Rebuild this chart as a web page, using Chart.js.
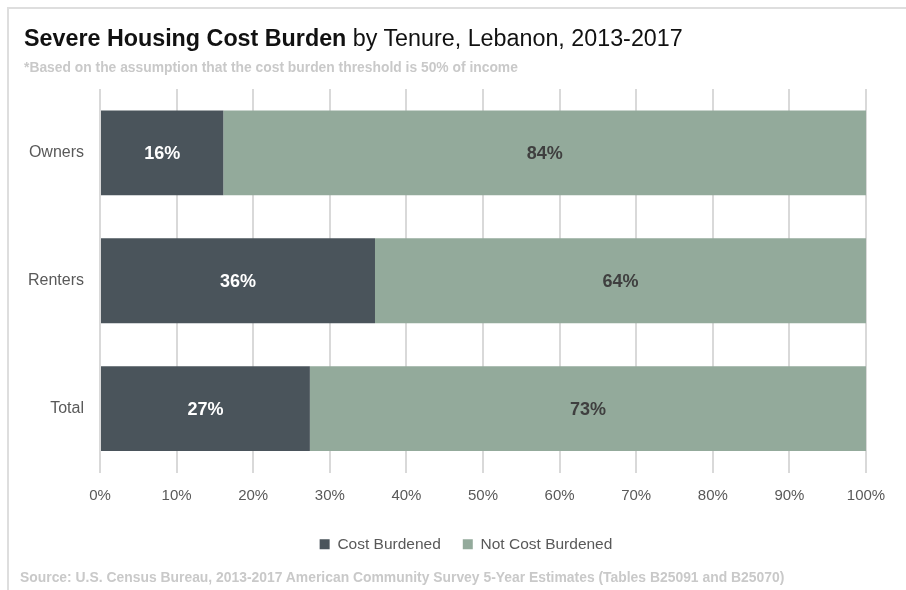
<!DOCTYPE html>
<html>
<head>
<meta charset="utf-8">
<script src="https://cdn.jsdelivr.net/npm/chart.js@4.4.1/dist/chart.umd.min.js"></script>
<style>
  html, body { margin: 0; padding: 0; background: #fff; }
  body { width: 906px; height: 590px; position: relative; overflow: hidden; font-family: "Liberation Sans", Arial, sans-serif; }
  #frame { position: absolute; left: 7px; top: 7px; width: 1000px; height: 1000px; border: 2px solid #dedede; }
  #titulo { position: absolute; left: 24px; top: 25px; font-size: 23.3px; color: #111; white-space: nowrap; }
  #titulo b { font-weight: bold; }
  #subtitulo { position: absolute; left: 24px; top: 58px; font-size: 15px; font-weight: bold; color: #c9c9c9; white-space: nowrap; transform: scaleX(0.923); transform-origin: left top; }
  #fonte { position: absolute; left: 20px; top: 568px; font-size: 15px; font-weight: bold; color: #c9c9c9; white-space: nowrap; transform: scaleX(0.926); transform-origin: left top; }
  #caixa { position: absolute; left: 0; top: 0; width: 906px; height: 590px; }
</style>
</head>
<body>
<div id="frame"></div>
<div id="caixa"><canvas id="graficoCustoMoradia" width="906" height="590"></canvas></div>
<div id="titulo"><b>Severe Housing Cost Burden</b> by Tenure, Lebanon, 2013-2017</div>
<div id="subtitulo">*Based on the assumption that the cost burden threshold is 50% of income</div>
<div id="fonte">Source: U.S. Census Bureau, 2013-2017 American Community Survey 5-Year Estimates (Tables B25091 and B25070)</div>
<script>
// ---- dados do gráfico

const categorias = ['Owners', 'Renters', 'Total'];
const custoSobrecarregado = [16.1, 35.9, 27.4];
const semSobrecarga = [83.9, 64.1, 72.6];
const rotulosEixoX = ['0%', '10%', '20%', '30%', '40%', '50%', '60%', '70%', '80%', '90%', '100%'];

const fonteEixos = '"Liberation Sans", Arial, sans-serif';

// plugin simples para escrever os valores dentro das barras
const rotulosBarras = {
    id: 'rotulosBarras',
    afterLayout(chart) {
        // a legenda do original fica um pouco à direita do centro
        chart.legend.left += 33;
        chart.legend.right += 33;
        chart.legend.top -= 2;
        chart.legend.bottom -= 2;
    },
    afterDatasetsDraw(chart) {
        const ctx = chart.ctx;
        ctx.save();
        ctx.font = 'bold 18px ' + fonteEixos;
        ctx.textAlign = 'center';
        ctx.textBaseline = 'middle';
        chart.data.datasets.forEach((ds, i) => {
            const meta = chart.getDatasetMeta(i);
            meta.data.forEach((barra, j) => {
                const centroX = (barra.x + barra.base) / 2;
                ctx.fillStyle = i === 0 ? '#ffffff' : '#3f3f3f';
                ctx.fillText(Math.round(ds.data[j]) + '%', centroX, barra.y + 1);
            });
        });
        ctx.restore();
    }
};

const ctx = document.getElementById('graficoCustoMoradia').getContext('2d');
let graficoCustoMoradia = new Chart(ctx, {
    type: 'bar',
    data: {
        labels: categorias,
        datasets: [{
            label: 'Cost Burdened',
            data: custoSobrecarregado,
            backgroundColor: '#4a545b',
            barPercentage: 0.664,
            categoryPercentage: 1
        }, {
            label: 'Not Cost Burdened',
            data: semSobrecarga,
            backgroundColor: '#93aa9b',
            barPercentage: 0.664,
            categoryPercentage: 1
        }]
    },
    options: {
        indexAxis: 'y',
        responsive: false,
        animation: false,
        devicePixelRatio: 1,
        layout: {
            padding: { left: 0, right: 40, top: 89, bottom: 26 }
        },
        scales: {
            x: {
                stacked: true,
                min: 0,
                max: 100,
                afterFit: (escala) => { escala.height = 44; },
                afterBuildTicks: (escala) => {
                    escala.ticks = rotulosEixoX.map((r, i) => ({ value: i * 10 }));
                },
                ticks: {
                    callback: (v, i) => rotulosEixoX[i],
                    color: '#595959',
                    font: { family: fonteEixos, size: 15 },
                    padding: 14,
                    maxRotation: 0
                },
                grid: { color: '#d9d9d9', lineWidth: 2, drawTicks: false },
                border: { display: false }
            },
            y: {
                stacked: true,
                afterFit: (escala) => { escala.width = 100; },
                ticks: {
                    color: '#595959',
                    font: { family: fonteEixos, size: 16 },
                    padding: 8
                },
                grid: { display: false },
                border: { display: false }
            }
        },
        plugins: {
            legend: {
                position: 'bottom',
                labels: {
                    boxWidth: 10,
                    boxHeight: 10,
                    padding: 22,
                    color: '#595959',
                    font: { family: fonteEixos, size: 15.5 }
                }
            },
            tooltip: { enabled: false }
        }
    },
    plugins: [rotulosBarras]
});
</script>
</body>
</html>
